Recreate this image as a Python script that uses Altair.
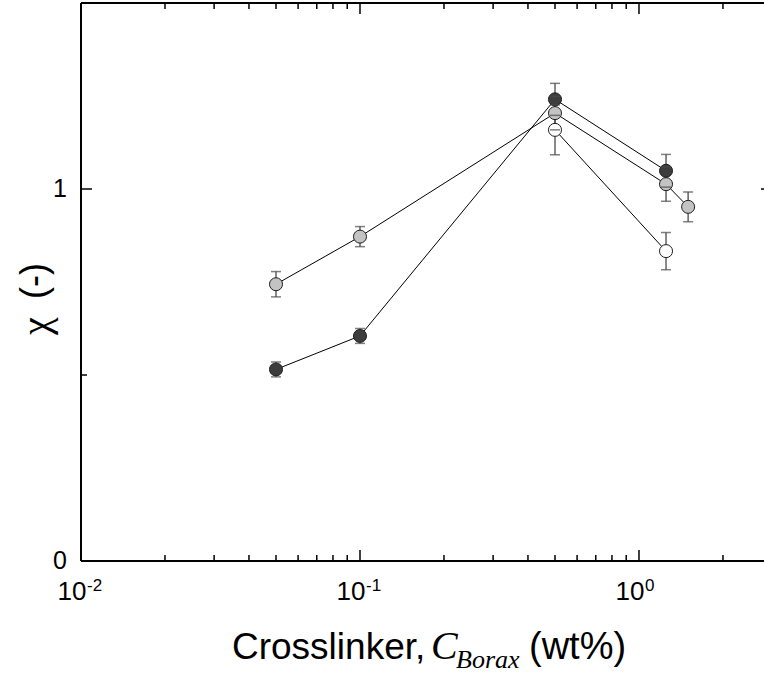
import altair as alt
import pandas as pd

# ---- data ----
dark_x = [0.05, 0.1, 0.5, 1.25]
dark_y = [0.515, 0.605, 1.241, 1.049]
dark_err = [0.02, 0.02, 0.043, 0.044]

gray_x = [0.05, 0.1, 0.5, 1.25, 1.5]
gray_y = [0.744, 0.872, 1.204, 1.013, 0.952]
gray_err = [0.034, 0.027, 0.045, 0.046, 0.04]

open_x = [0.5, 1.25]
open_y = [1.159, 0.833]
open_err = [0.067, 0.05]

x_major = [0.01, 0.1, 1.0]
x_exponents = ["-2", "-1", "0"]
x_minor = [0.02, 0.03, 0.04, 0.05, 0.06, 0.07, 0.08, 0.09,
           0.2, 0.3, 0.4, 0.5, 0.6, 0.7, 0.8, 0.9, 2.0]
y_labels = [0, 1]
y_label_text = ["0", "1"]
y_major = [1.0]
y_minor = [0.5]

series_names = ["dark", "gray", "open"]
series_fill = ["#3d3d3d", "#c3c3c3", "#ffffff"]

rows = []
for name, xs, ys, es in [("dark", dark_x, dark_y, dark_err),
                         ("gray", gray_x, gray_y, gray_err),
                         ("open", open_x, open_y, open_err)]:
    for xv, yv, ev in zip(xs, ys, es):
        rows.append({"series": name, "x": xv, "y": yv, "lo": yv - ev, "hi": yv + ev})
df = pd.DataFrame(rows)

W, H = 683, 558
FONT = "Liberation Sans"
xscale = alt.Scale(type="log", domain=[0.01, 2.806], nice=False)
yscale = alt.Scale(domain=[0, 1.5], nice=False, zero=False)
X = lambda f: alt.X(f, scale=xscale, axis=None)
Y = lambda f: alt.Y(f, scale=yscale, axis=None)

# ---- data layers ----
lines = alt.Chart(df).mark_line(color="black", strokeWidth=1).encode(
    x=X("x:Q"), y=Y("y:Q"), detail="series:N", order="x:Q")

points = alt.Chart(df).mark_point(shape="circle", filled=True, size=170,
                                  stroke="#1e1e1e", strokeWidth=1, opacity=1).encode(
    x=X("x:Q"), y=Y("y:Q"),
    fill=alt.Fill("series:N", scale=alt.Scale(domain=series_names, range=series_fill), legend=None),
)

ERR = "#4a4a4a"
err_rule = alt.Chart(df).mark_rule(color=ERR, strokeWidth=1.3).encode(
    x=X("x:Q"), y=Y("lo:Q"), y2="hi:Q")
err_lo = alt.Chart(df).mark_tick(orient="horizontal", color=ERR, size=10, thickness=1.5).encode(
    x=X("x:Q"), y=Y("lo:Q"))
err_hi = alt.Chart(df).mark_tick(orient="horizontal", color=ERR, size=10, thickness=1.5).encode(
    x=X("x:Q"), y=Y("hi:Q"))

# ---- frame and inward ticks ----
one = pd.DataFrame({"a": [0]})
frame = [
    alt.Chart(one).mark_rule(color="black", strokeWidth=2).encode(
        x=alt.value(0), x2=alt.value(W), y=alt.value(0)),
    alt.Chart(one).mark_rule(color="black", strokeWidth=2).encode(
        x=alt.value(0), x2=alt.value(W), y=alt.value(H)),
    alt.Chart(one).mark_rule(color="black", strokeWidth=2).encode(
        x=alt.value(0), y=alt.value(0), y2=alt.value(H)),
]

xmaj_df = pd.DataFrame({"v": x_major, "e": x_exponents})
xmin_df = pd.DataFrame({"v": x_minor})
ymaj_df = pd.DataFrame({"v": y_major})
ymin_df = pd.DataFrame({"v": y_minor})
ylab_df = pd.DataFrame({"v": y_labels, "t": y_label_text})


def xticks(d, y0, y1):
    return alt.Chart(d).mark_rule(color="black", strokeWidth=1.5).encode(
        x=X("v:Q"), y=alt.value(y0), y2=alt.value(y1))


def yticks(d, x0, x1):
    return alt.Chart(d).mark_rule(color="black", strokeWidth=1.5).encode(
        y=Y("v:Q"), x=alt.value(x0), x2=alt.value(x1))


tick_layers = [
    xticks(xmaj_df, H, H - 11), xticks(xmin_df, H, H - 6),
    xticks(xmaj_df, 0, 11), xticks(xmin_df, 0, 6),
    yticks(ymaj_df, 0, 11), yticks(ymin_df, 0, 6),
    yticks(ymaj_df, W - 3, W),
]

# ---- tick labels ----
ylab = alt.Chart(ylab_df).mark_text(font=FONT, fontSize=25, align="right", baseline="middle",
                                     dx=-14, color="black").encode(
    y=Y("v:Q"), x=alt.value(0), text="t:N")
base_lbl = alt.Chart(xmaj_df).mark_text(text="10", font=FONT, fontSize=26, align="center",
                                         baseline="alphabetic", dx=-9, color="black").encode(
    x=X("v:Q"), y=alt.value(597))
exp_lbl = alt.Chart(xmaj_df).mark_text(font=FONT, fontSize=17, align="left",
                                        baseline="alphabetic", dx=6, color="black").encode(
    x=X("v:Q"), y=alt.value(588), text="e:N")

# ---- axis titles ----
t1 = alt.Chart(one).mark_text(text="Crosslinker,", font=FONT, fontSize=37, align="left",
                              baseline="alphabetic", color="black").encode(
    x=alt.value(151), y=alt.value(656))
t2 = alt.Chart(one).mark_text(text="C", font="Liberation Serif", fontStyle="italic", fontSize=40,
                              align="left", baseline="alphabetic", color="black").encode(
    x=alt.value(350), y=alt.value(656))
t3 = alt.Chart(one).mark_text(text="Borax", font="Liberation Serif", fontStyle="italic", fontSize=26,
                              align="left", baseline="alphabetic", color="black").encode(
    x=alt.value(375), y=alt.value(665))
t4 = alt.Chart(one).mark_text(text="(wt%)", font=FONT, fontSize=38, align="left",
                              baseline="alphabetic", color="black").encode(
    x=alt.value(448), y=alt.value(656))
ytitle_chi = alt.Chart(one).mark_text(text="χ", font="Liberation Serif", fontSize=40, angle=270,
                                      align="center", baseline="middle", color="black").encode(
    x=alt.value(-44), y=alt.value(323))
ytitle_par = alt.Chart(one).mark_text(text="(-)", font=FONT, fontSize=36, angle=270,
                                      align="center", baseline="middle", color="black").encode(
    x=alt.value(-46), y=alt.value(278))

chart = alt.layer(
    lines, *frame, *tick_layers, err_rule, points, err_lo, err_hi,
    ylab, base_lbl, exp_lbl, t1, t2, t3, t4, ytitle_chi, ytitle_par,
).properties(
    width=W, height=H,
    padding={"left": 81, "top": 3, "right": 0, "bottom": 114},
    autosize=alt.AutoSizeParams(type="none"),
    background="white",
).configure_view(stroke=None)

chart.save("out.html", embed_options={"renderer": "svg", "actions": False})
